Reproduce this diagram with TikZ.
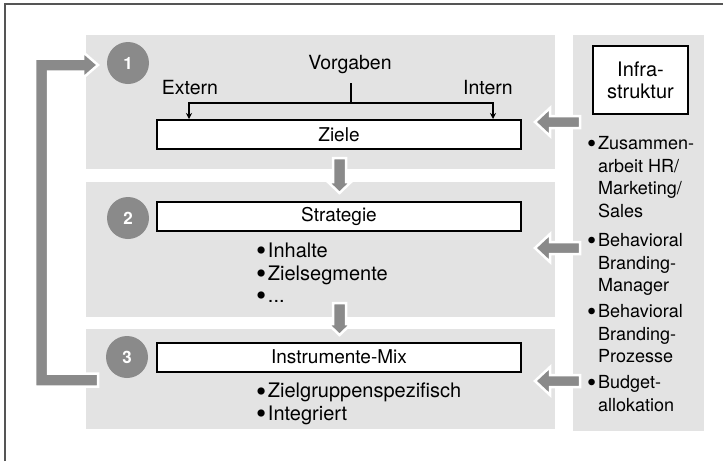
\documentclass[tikz,border=0pt]{standalone}
\usepackage{fontspec}
\usepackage{graphicx}
\setmainfont{TeX Gyre Heros}
\usetikzlibrary{arrows.meta}
\definecolor{panelgray}{HTML}{E3E3E3}
\definecolor{arrowgray}{HTML}{8A8A8A}
\definecolor{framegray}{HTML}{555555}
\newcommand{\bigbul}{\raisebox{-0.16em}{\scalebox{1.45}{•}}\hspace{0.08em}}
\begin{document}
\begin{tikzpicture}[x=1pt,y=-1pt,
  panel/.style={fill=panelgray, draw=none},
  wbox/.style={draw=black, line width=2pt, fill=white, minimum height=29pt, minimum width=364pt, inner sep=0pt, font=\fontsize{19}{22}\selectfont},
  numcirc/.style={circle, fill=arrowgray, minimum size=42pt, inner sep=0pt, text=white, font=\bfseries\fontsize{17}{20}\selectfont},
  blockarrow/.style={fill=arrowgray, draw=white, line width=2.5pt, line join=miter},
  lbl/.style={font=\fontsize{19.5}{22.5}\selectfont, inner sep=0pt},
  rtxt/.style={font=\fontsize{18}{22.5}\selectfont, inner sep=0pt, align=left, anchor=north west},
  bul/.style={font=\fontsize{18}{22.5}\selectfont, inner sep=0pt, anchor=base west},
  ltxt/.style={font=\fontsize{20}{22.5}\selectfont, inner sep=0pt, align=left, anchor=north west},
  thinline/.style={line width=1.6pt}
]
\useasboundingbox (0,0) rectangle (723,461);
% frame
\draw[framegray, line width=1.2pt] (5,461) -- (5,4) -- (723,4);
% panels
\fill[panel] (86,35) rectangle (555,169);
\fill[panel] (86,182) rectangle (555,317);
\fill[panel] (86,329) rectangle (555,429);
\fill[panel] (573,35) rectangle (704,431);

% boxes
\node[wbox] (ziele) at (339,134.5) {Ziele};
\node[wbox] (strategie) at (339,216) {Strategie};
\node[wbox] (instr) at (339,357) {Instrumente-Mix};
\node[draw=black, line width=2pt, fill=white, minimum width=95pt, minimum height=68pt, inner sep=0pt, align=center,
  font=\fontsize{20}{22}\selectfont] (infra) at (640.5,80) {Infra-\\struktur};

% circles
\node[numcirc] (c1) at (128,63) {1};
\node[numcirc] (c2) at (128,218) {2};
\node[numcirc] (c3) at (127,357) {3};

% Vorgaben
\node[lbl, anchor=base] (vorgaben) at (350,69) {Vorgaben};
\node[lbl, anchor=base] (extern) at (190,94) {Extern};
\node[lbl, anchor=base] (intern) at (488,94) {Intern};
\coordinate (vtop) at (351,83);
\coordinate (vsplit) at (351,103);
\coordinate (lx) at (189,103);
\coordinate (rx) at (493,103);
\draw[thinline] (vtop) -- (vsplit);
\draw[thinline, -{Stealth[length=6pt,width=6pt]}] (vsplit) -- (lx) -- (lx |- ziele.north);
\draw[thinline, -{Stealth[length=6pt,width=6pt]}] (vsplit) -- (rx) -- (rx |- ziele.north);

% bullets left
\node[ltxt] (list2) at (256,243) {\bigbul Inhalte\\\bigbul Zielsegmente\\\bigbul ...};
\node[ltxt] (list3) at (256,383) {\bigbul Zielgruppenspezifisch\\\bigbul Integriert};

% right panel bullets
\node[bul] (b1) at (587,149.5) {\bigbul};
\node[rtxt] (t1) at (598,136.5) {Zusammen-\\arbeit HR/\\Marketing/\\Sales};
\node[bul] (b2) at (587,246.5) {\bigbul};
\node[rtxt] (t2) at (598,233.5) {Behavioral\\Branding-\\Manager};
\node[bul] (b3) at (587,317.5) {\bigbul};
\node[rtxt] (t3) at (598,304.5) {Behavioral\\Branding-\\Prozesse};
\node[bul] (b4) at (587,388.5) {\bigbul};
\node[rtxt] (t4) at (598,375.5) {Budget-\\allokation};

% down block arrows
\path[blockarrow] (333,158) -- (346,158) -- (346,182) -- (351,182) -- (339.5,193) -- (328,182) -- (333,182) -- cycle;
\path[blockarrow] (333,303) -- (346,303) -- (346,324) -- (351,324) -- (339.5,335) -- (328,324) -- (333,324) -- cycle;

% left block arrows
\path[blockarrow] (580,116) -- (550,116) -- (550,108) -- (535,122) -- (550,136) -- (550,128) -- (580,128) -- cycle;
\path[blockarrow] (580,242) -- (550,242) -- (550,234) -- (535,248) -- (550,262) -- (550,254) -- (580,254) -- cycle;
\path[blockarrow] (580,375) -- (550,375) -- (550,367) -- (535,381) -- (550,395) -- (550,387) -- (580,387) -- cycle;

% feedback arrow
\path[blockarrow] (98,386.5) -- (35,386.5) -- (35,58.5) -- (83,58.5) -- (83,52) -- (98,65) -- (83,78) -- (83,71.5) -- (48,71.5) -- (48,373.5) -- (98,373.5) -- cycle;
\end{tikzpicture}
\end{document}
